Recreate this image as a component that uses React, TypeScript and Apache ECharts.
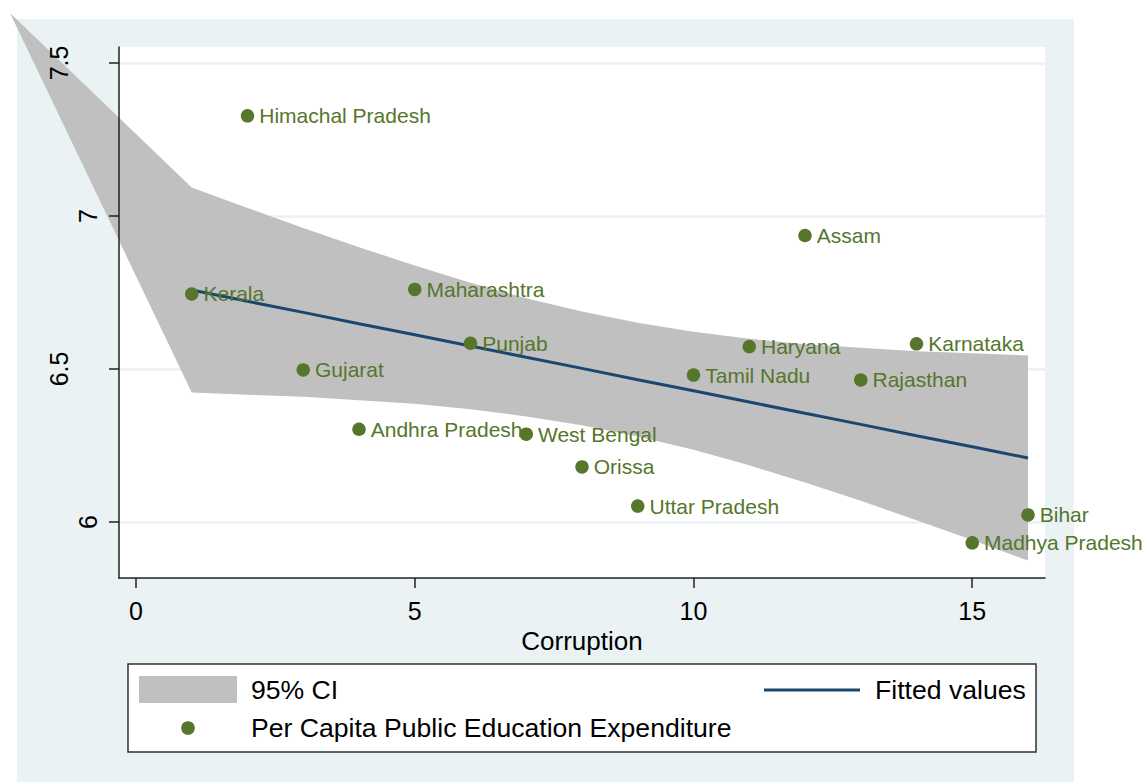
import React, { useEffect, useRef } from "react";
import * as echarts from "echarts";

// ---- data ----
const states = [
  "Kerala", "Himachal Pradesh", "Gujarat", "Andhra Pradesh", "Maharashtra", "Punjab",
  "West Bengal", "Orissa", "Uttar Pradesh", "Tamil Nadu", "Haryana", "Assam",
  "Rajasthan", "Karnataka", "Madhya Pradesh", "Bihar",
];
const corruption = [1, 2, 3, 4, 5, 6, 7, 8, 9, 10, 11, 12, 13, 14, 15, 16];
const expenditure = [
  6.745, 7.327, 6.497, 6.303, 6.76, 6.584, 6.287, 6.18, 6.052, 6.48, 6.573, 6.936,
  6.464, 6.582, 5.932, 6.023,
];
const fittedValues = [
  6.758, 6.721, 6.685, 6.648, 6.612, 6.575, 6.538, 6.502, 6.465, 6.429, 6.392, 6.355,
  6.319, 6.282, 6.246, 6.209,
];
const ciUpper = [
  7.093, 7.026, 6.961, 6.898, 6.838, 6.782, 6.731, 6.688, 6.651, 6.622, 6.599, 6.581,
  6.569, 6.558, 6.551, 6.544,
];
const ciLower = [
  6.423, 6.416, 6.409, 6.398, 6.386, 6.368, 6.345, 6.316, 6.279, 6.236, 6.185, 6.129,
  6.069, 6.006, 5.941, 5.874,
];
const ciTip = [-2.26, 7.663];
const xTicks = [0, 5, 10, 15];
const yTicks = [6, 6.5, 7, 7.5];
const yLabelsWhole = [6, 7];
const yLabelsHalf = [6.5, 7.5];

const GREEN = "#55762B";
const NAVY = "#1A476F";
const BAND = "#C0C0C0";
const BG = "#EAF2F3";
const AXIS = "#222222";
const FONT = '"Liberation Sans", Arial, Helvetica, sans-serif';

export default function App() {
  const ref = useRef<HTMLDivElement>(null);

  useEffect(() => {
    if (!ref.current) return;
    const chart = echarts.init(ref.current, undefined, { renderer: "svg" });

    const bandPoly: number[][] = [ciTip];
    corruption.forEach((x, i) => bandPoly.push([x, ciUpper[i]]));
    for (let i = corruption.length - 1; i >= 0; i--) bandPoly.push([corruption[i], ciLower[i]]);

    const yAxisBase = {
      type: "value",
      min: 5.817,
      max: 7.552,
      position: "left",
      z: 10,
      splitLine: { show: false },
    };

    const legendText = (text: string, x: number, y: number) => ({
      type: "text",
      z: 21,
      x,
      y,
      style: { text, fontSize: 26.6, fontFamily: FONT, fill: "#000", verticalAlign: "middle", align: "left" },
    });

    const option: any = {
      animation: false,
      backgroundColor: "#ffffff",
      textStyle: { fontFamily: FONT },
      grid: {
        left: 119,
        right: 98,
        top: 47,
        bottom: 204,
        show: true,
        backgroundColor: "#ffffff",
        borderWidth: 0,
      },
      graphic: [
        {
          type: "rect",
          z: -10,
          silent: true,
          shape: { x: 17, y: 19, width: 1057, height: 763 },
          style: { fill: BG },
        },
        {
          type: "rect",
          z: 20,
          shape: { x: 128, y: 664, width: 908, height: 88 },
          style: { fill: "#ffffff", stroke: "#333333", lineWidth: 1.5 },
        },
        {
          type: "rect",
          z: 21,
          shape: { x: 139, y: 676, width: 98, height: 27 },
          style: { fill: BAND },
        },
        legendText("95% CI", 251, 690),
        {
          type: "line",
          z: 21,
          shape: { x1: 764, y1: 690, x2: 860, y2: 690 },
          style: { stroke: NAVY, lineWidth: 3 },
        },
        legendText("Fitted values", 875, 690),
        {
          type: "circle",
          z: 21,
          shape: { cx: 188, cy: 728, r: 6.8 },
          style: { fill: GREEN },
        },
        legendText("Per Capita Public Education Expenditure", 251, 728),
      ],
      xAxis: {
        type: "value",
        min: -0.305,
        max: 16.305,
        z: 10,
        name: "Corruption",
        nameLocation: "middle",
        nameGap: 44,
        nameTextStyle: { fontSize: 26, color: "#000", fontFamily: FONT },
        axisLine: { show: true, onZero: false, lineStyle: { color: AXIS, width: 1.5 } },
        axisTick: { show: true, customValues: xTicks, length: 10, lineStyle: { color: AXIS, width: 1.5 } },
        axisLabel: { show: true, customValues: xTicks, fontSize: 25, color: "#000", margin: 20, fontFamily: FONT },
        splitLine: { show: false },
      },
      yAxis: [
        {
          ...yAxisBase,
          axisLine: { show: true, onZero: false, lineStyle: { color: AXIS, width: 1.5 } },
          axisTick: { show: true, customValues: yTicks, length: 10, lineStyle: { color: AXIS, width: 1.5 } },
          axisLabel: {
            show: true,
            customValues: yLabelsWhole,
            rotate: 90,
            fontSize: 25,
            color: "#000",
            margin: 19,
            fontFamily: FONT,
          },
        },
        {
          ...yAxisBase,
          axisLine: { show: false, onZero: false },
          axisTick: { show: false },
          axisLabel: {
            show: true,
            customValues: yLabelsHalf,
            rotate: 90,
            fontSize: 25,
            color: "#000",
            margin: 48,
            fontFamily: FONT,
          },
        },
      ],
      series: [
        {
          type: "line",
          name: "grid",
          z: 1,
          silent: true,
          data: [],
          markLine: {
            silent: true,
            z: 1,
            symbol: "none",
            label: { show: false },
            lineStyle: { color: BG, width: 2.5, type: "solid" },
            data: yTicks.map((v) => ({ yAxis: v })),
          },
        },
        {
          type: "custom",
          name: "95% CI",
          z: 2,
          clip: false,
          silent: true,
          data: bandPoly,
          renderItem: (params: any, api: any) => {
            if (params.dataIndex !== 0) return null;
            const pts = bandPoly.map((p) => api.coord(p));
            return {
              type: "polygon",
              shape: { points: pts },
              style: { fill: BAND },
            };
          },
        },
        {
          type: "line",
          name: "Fitted values",
          z: 3,
          showSymbol: false,
          data: corruption.map((x, i) => [x, fittedValues[i]]),
          lineStyle: { color: NAVY, width: 3 },
          itemStyle: { color: NAVY },
        },
        {
          type: "scatter",
          name: "Per Capita Public Education Expenditure",
          z: 4,
          symbol: "circle",
          symbolSize: 13.5,
          itemStyle: { color: GREEN, opacity: 1 },
          data: corruption.map((x, i) => ({ value: [x, expenditure[i]], name: states[i] })),
          label: {
            show: true,
            position: "right",
            distance: 5,
            formatter: (p: any) => p.name,
            color: GREEN,
            fontSize: 21,
            fontFamily: FONT,
          },
        },
      ],
    };

    chart.setOption(option);
    return () => chart.dispose();
  }, []);

  return (
    <div
      ref={ref}
      style={{ position: "absolute", left: 0, top: 0, width: 1143, height: 782 }}
    />
  );
}
